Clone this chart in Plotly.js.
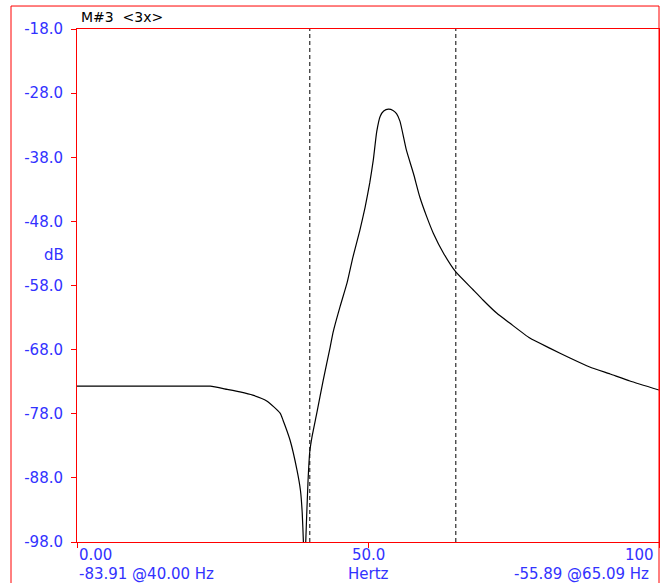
<!DOCTYPE html>
<html>
<head>
<meta charset="utf-8">
<script src="https://cdn.plot.ly/plotly-3.0.1.min.js"></script>
<style>
  html, body { margin: 0; padding: 0; background: #fff; }
  #chart { width: 662px; height: 583px; }
</style>
</head>
<body>
<div id="chart"></div>
<script>
// Frequency response data (Hz, dB)
const freqHz = [0, 5, 10, 15, 20, 22.9, 25.8, 28.0, 30.2, 32.6, 34.9, 35.4, 36.6, 37.8, 38.4, 38.7, 38.9, 39.1, 39.3, 39.7, 40.0, 40.4, 41.2, 42.3, 43.5, 44.0, 45.2, 46.4, 47.4, 48.6, 49.5, 50.3, 50.9, 51.5, 52.1, 52.7, 53.5, 54.3, 54.9, 55.5, 56.6, 57.8, 58.9, 60.1, 61.2, 63.0, 65.09, 68.1, 69.8, 72.1, 74.4, 77.8, 81.3, 84.7, 88.1, 91.6, 95.0, 100];
const levelDb = [-73.7, -73.7, -73.7, -73.7, -73.7, -73.7, -74.2, -74.6, -75.1, -76.0, -77.9, -79.0, -82.1, -86.8, -90.0, -93.5, -98.0, -104.0, -98.0, -88.4, -83.91, -81.5, -77.9, -72.8, -67.6, -65.3, -61.3, -57.6, -53.6, -49.4, -45.8, -42.0, -38.5, -34.0, -31.6, -30.8, -30.5, -30.7, -31.2, -32.4, -36.9, -40.5, -44.2, -47.3, -49.8, -53.0, -55.89, -58.7, -60.3, -62.3, -63.9, -66.2, -67.8, -69.3, -70.7, -71.8, -72.9, -74.3];

// Cursor markers
const markerFreq = [40.00, 65.09];
const markerDb = [-83.91, -55.89];

// Axis ticks
const xTickVals = [0, 50, 100];
const xTickText = ['0.00', '50.0', '100'];
const yTickVals = [-18, -28, -38, -48, -58, -68, -78, -88, -98];
const yTickText = ['-18.0', '-28.0', '-38.0', '-48.0', '-58.0', '-68.0', '-78.0', '-88.0', '-98.0'];

const xRange = [0, 100];
const yRange = [-98, -18];

const titleText = 'M#3  <3x>';
const yLabel = 'dB';
const xLabel = 'Hertz';

const BLUE = '#3232ff';
const RED = '#ff0000';
const FONT = 'DejaVu Sans';
const FS = 15;

const traces = [
  {
    x: freqHz, y: levelDb, type: 'scatter', mode: 'lines',
    line: { color: '#000000', width: 1.2, shape: 'spline', smoothing: 0.5 }, hoverinfo: 'skip'
  }
];
markerFreq.forEach(f => {
  traces.push({
    x: [f, f], y: yRange, type: 'scatter', mode: 'lines',
    line: { color: '#000000', width: 1, dash: '4px,3px' }, hoverinfo: 'skip'
  });
});

const xAligns = ['left', 'center', 'right'];
const annotations = [];
xTickVals.forEach((v, i) => {
  annotations.push({
    x: v, xref: 'x', y: -0.0253, yref: 'paper',
    text: xTickText[i], showarrow: false, xanchor: xAligns[i], yanchor: 'middle',
    xshift: i === 2 ? -3 : 0,
    font: { family: FONT, size: FS, color: BLUE }
  });
});
annotations.push({
  x: xRange[0], xref: 'x', y: -0.0624, yref: 'paper',
  text: markerDb[0].toFixed(2) + ' @' + markerFreq[0].toFixed(2) + ' Hz',
  showarrow: false, xanchor: 'left', yanchor: 'middle',
  font: { family: FONT, size: FS, color: BLUE }
});
annotations.push({
  x: 50, xref: 'x', y: -0.0624, yref: 'paper',
  text: xLabel, showarrow: false, xanchor: 'center', yanchor: 'middle',
  font: { family: FONT, size: FS, color: BLUE }
});
annotations.push({
  x: xRange[1], xref: 'x', y: -0.0624, yref: 'paper',
  text: markerDb[1].toFixed(2) + ' @' + markerFreq[1].toFixed(2) + ' Hz',
  showarrow: false, xanchor: 'right', yanchor: 'middle', xshift: -8,
  font: { family: FONT, size: FS, color: BLUE }
});
annotations.push({
  x: -0.019, xref: 'paper', y: 0.5595, yref: 'paper',
  text: yLabel, showarrow: false, xanchor: 'right', yanchor: 'middle',
  font: { family: FONT, size: FS, color: BLUE }
});
annotations.push({
  x: 0.004, xref: 'paper', y: 1.0234, yref: 'paper',
  text: titleText.replace(/</g, '&lt;').replace(/>/g, '&gt;'),
  showarrow: false, xanchor: 'left', yanchor: 'middle',
  font: { family: FONT, size: 14, color: '#000000' }
});

const layout = {
  width: 662, height: 583,
  margin: { l: 77, r: 3, t: 29, b: 41, pad: 0 },
  paper_bgcolor: '#ffffff', plot_bgcolor: '#ffffff',
  showlegend: false,
  font: { family: FONT, size: FS, color: BLUE },
  xaxis: {
    range: xRange, tickvals: xTickVals, ticktext: xTickText, showticklabels: false,
    ticks: 'outside', ticklen: 5, tickcolor: RED, tickwidth: 1,
    showline: true, linecolor: RED, linewidth: 1, mirror: true,
    showgrid: false, zeroline: false, fixedrange: true
  },
  yaxis: {
    range: yRange, tickvals: yTickVals, ticktext: yTickText,
    ticks: 'outside', ticklen: 5, tickcolor: RED, tickwidth: 1,
    ticklabelstandoff: 5,
    tickfont: { family: FONT, size: FS, color: BLUE },
    showline: true, linecolor: RED, linewidth: 1, mirror: true,
    showgrid: false, zeroline: false, fixedrange: true
  },
  shapes: [
    {
      type: 'rect', xref: 'paper', yref: 'paper',
      x0: -0.1134, x1: 1, y0: -0.3, y1: 1.0448,
      line: { color: RED, width: 1 }, fillcolor: 'rgba(0,0,0,0)', layer: 'above'
    }
  ],
  annotations: annotations
};

Plotly.newPlot('chart', traces, layout, { staticPlot: true, displayModeBar: false });
</script>
</body>
</html>
